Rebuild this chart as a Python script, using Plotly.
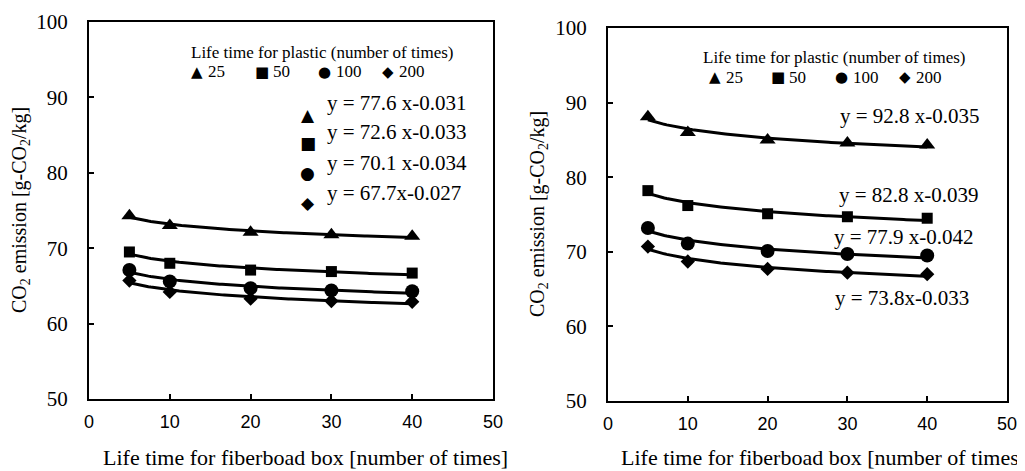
import numpy as np
import plotly.graph_objects as go

# ---------------- data ----------------
fiber_life = [5, 10, 20, 30, 40]
plastic_life = ["25", "50", "100", "200"]

# left panel
left_25 = [74.3, 73.0, 72.1, 71.8, 71.6]
left_50 = [69.5, 68.0, 67.1, 66.9, 66.7]
left_100 = [67.1, 65.6, 64.7, 64.4, 64.3]
left_200 = [65.7, 64.2, 63.3, 63.0, 62.9]

# right panel
right_25 = [88.1, 86.0, 85.0, 84.6, 84.3]
right_50 = [78.2, 76.2, 75.1, 74.7, 74.5]
right_100 = [73.2, 71.1, 70.1, 69.7, 69.5]
right_200 = [70.7, 68.7, 67.7, 67.2, 67.0]

left_eqs = ["y = 77.6 x-0.031", "y = 72.6 x-0.033", "y = 70.1 x-0.034", "y = 67.7x-0.027"]
right_eqs = ["y = 92.8 x-0.035", "y = 82.8 x-0.039", "y = 77.9 x-0.042", "y = 73.8x-0.033"]

x_ticks = [0, 10, 20, 30, 40, 50]
y_ticks = [50, 60, 70, 80, 90, 100]

# ---------------- style ----------------
SERIF = "Liberation Serif, Times New Roman, serif"
SANS = "Liberation Sans, Arial, sans-serif"
symbols = ["triangle-up", "square", "circle", "diamond"]
sizes = [14, 11, 14, 11]
glyphs = ["▲", "■", "●", "◆"]

fig = go.Figure()

def add_panel(series, xa, ya):
    xs = np.array(fiber_life, dtype=float)
    grid = np.linspace(xs.min(), xs.max(), 120)
    for vals, sym, sz in zip(series, symbols, sizes):
        v = np.array(vals, dtype=float)
        b, loga = np.polyfit(np.log(xs), np.log(v), 1)
        fit = np.exp(loga) * grid ** b
        fig.add_trace(go.Scatter(x=grid, y=fit, mode="lines",
                                 line=dict(color="black", width=3),
                                 xaxis=xa, yaxis=ya, showlegend=False,
                                 hoverinfo="skip"))
        fig.add_trace(go.Scatter(x=fiber_life, y=vals, mode="markers",
                                 marker=dict(symbol=sym, size=sz, color="black"),
                                 xaxis=xa, yaxis=ya, showlegend=False))

add_panel([left_25, left_50, left_100, left_200], "x", "y")
add_panel([right_25, right_50, right_100, right_200], "x2", "y2")

# page body adds an 8px offset; place everything relative to the screen
OFF = 8
W, H = 1025, 471

def px(x):
    return (x - OFF) / W

def py(y):
    return 1 - (y - OFF) / H

ax_common = dict(range=[0, 50], tickvals=x_ticks, showgrid=False, zeroline=False,
                 showline=True, linecolor="black", linewidth=2, mirror=True,
                 ticks="inside", ticklen=5, tickwidth=1.5, tickcolor="black",
                 automargin=False, ticklabelstandoff=5, ticklabeloverflow="allow",
                 tickfont=dict(family=SANS, size=18, color="black"))
ay_common = dict(range=[50, 100], tickvals=y_ticks, showgrid=False, zeroline=False,
                 showline=True, linecolor="black", linewidth=2, mirror=True,
                 ticks="inside", ticklen=5, tickwidth=1.5, tickcolor="black",
                 automargin=False, ticklabelstandoff=15, ticklabeloverflow="allow",
                 tickfont=dict(family=SERIF, size=21, color="black"))

fig.update_layout(
    width=W, height=H,
    margin=dict(l=0, r=0, t=0, b=0, pad=0, autoexpand=False),
    paper_bgcolor="white", plot_bgcolor="white",
    xaxis=dict(domain=[px(89), px(493)], anchor="y", **ax_common),
    yaxis=dict(domain=[py(399), py(22)], anchor="x", **ay_common),
    xaxis2=dict(domain=[px(608), px(1007)], anchor="y2", **ax_common),
    yaxis2=dict(domain=[py(401), py(28)], anchor="x2", **ay_common),
)

ann = []

def txt(text, x, y, xref, yref, size, family=SERIF, xanchor="center", **kw):
    ann.append(dict(text=text, x=x, y=y, xref=xref, yref=yref, showarrow=False,
                    xanchor=xanchor, yanchor="middle",
                    font=dict(family=family, size=size, color="black"), **kw))

# legends
for xr, yr, tx, ty, row_y, sym_x in [
        ("x", "y", 28.8, 96.0, 93.4, [13.4, 21.4, 29.2, 37.0]),
        ("x2", "y2", 28.3, 96.1, 93.4, [13.4, 21.3, 29.3, 37.2])]:
    txt("Life time for plastic (number of times)", tx, ty, xr, yr, 17)
    for g, lab, sx in zip(glyphs, plastic_life, sym_x):
        txt(g, sx, row_y, xr, yr, 15, family="DejaVu Sans")
        txt(lab, sx + 1.1, row_y, xr, yr, 17, xanchor="left")

# left equations with symbols
for g, eq, sy, ty in zip(glyphs, left_eqs, [87.7, 84.0, 80.0, 76.0], [89.3, 85.4, 81.3, 77.3]):
    txt(g, 27.1, sy, "x", "y", 17, family="DejaVu Sans")
    txt(eq, 29.2, ty, "x", "y", 21, xanchor="left")

# right equations
for eq, ex, ey in zip(right_eqs, [28.8, 28.7, 28.1, 28.2], [88.2, 77.6, 72.0, 63.8]):
    txt(eq, ex, ey, "x2", "y2", 21, xanchor="left")

# axis titles
ytitle = "CO<sub>2</sub> emission [g-CO<sub>2</sub>/kg]"
txt(ytitle, px(20), py(210), "paper", "paper", 20, textangle=-90)
txt(ytitle, px(538), py(214), "paper", "paper", 20, textangle=-90)
xtitle = "Life time for fiberboad box [number of times]"
txt(xtitle, px(305), py(457), "paper", "paper", 22)
txt(xtitle, px(823), py(457), "paper", "paper", 22)

fig.update_layout(annotations=ann)
fig.write_html("out.html")
